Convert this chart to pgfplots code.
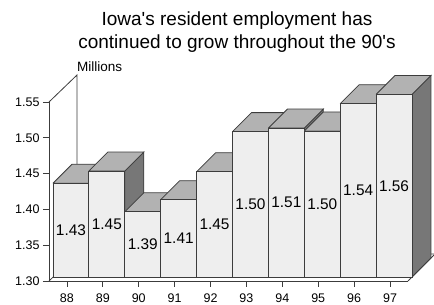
\documentclass[border=0pt]{standalone}
\usepackage{pgfplots}
\pgfplotsset{compat=1.18}
\usepackage{pgfplotstable}
\usepackage{fontspec}
\setmainfont{Liberation Sans}[Ligatures=TeXOff]
\definecolor{frontc}{RGB}{238,238,238}
\definecolor{topc}{RGB}{178,178,178}
\definecolor{sidec}{RGB}{119,119,119}
\definecolor{edgec}{RGB}{60,60,60}
\pgfplotstableread{
x v lab
0 1.431 1.43
1 1.448 1.45
2 1.391 1.39
3 1.408 1.41
4 1.447 1.45
5 1.503 1.50
6 1.508 1.51
7 1.504 1.50
8 1.542 1.54
9 1.555 1.56
}\emp
\begin{document}
\begin{tikzpicture}[x=1pt,y=1pt]
\useasboundingbox (0,0) rectangle (434,305);
\node[anchor=base,font=\fontsize{19}{22}\selectfont] at (237,279) {Iowa's resident employment has};
\node[anchor=base,font=\fontsize{19}{22}\selectfont] at (237,256) {continued to grow throughout the 90's};
\node[anchor=base west,font=\fontsize{13.5}{15}\selectfont,inner sep=0pt] at (77,233) {Millions};
\begin{axis}[
  at={(49pt,24pt)}, anchor=south west,
  scale only axis, width=359pt, height=179pt,
  xmin=-0.5, xmax=9.5, ymin=1.30, ymax=1.55,
  clip=false,
  axis x line*=bottom, axis y line*=left,
  axis line style={draw=edgec, line width=0.8pt},
  xtick={0,...,9},
  xticklabels={88,89,90,91,92,93,94,95,96,97},
  ytick={1.30,1.35,1.40,1.45,1.50,1.55},
  yticklabel style={/pgf/number format/.cd, fixed, fixed zerofill, precision=2},
  xticklabel style={yshift=-3pt},
  /pgf/number format/assume math mode=true,
  tick align=outside,
  major tick length=6pt,
  tick style={draw=edgec, line width=0.8pt},
  ticklabel style={font=\fontsize{12.5}{14}\selectfont},
  frontface/.style={fill=frontc, draw=edgec, line width=0.8pt, line join=miter, mark=none},
  topface/.style={fill=topc, draw=edgec, line width=0.8pt, line join=miter, mark=none},
  sideface/.style={fill=sidec, draw=edgec, line width=0.8pt, line join=miter, mark=none},
]
% 3D frame (walls / floor edges)
\draw[edgec, line width=0.8pt] (axis cs:-0.5,1.55) -- (axis cs:0.28,1.5877) -- (axis cs:0.28,1.3377) -- (axis cs:10.25,1.3377);
\draw[edgec, line width=0.8pt] (axis cs:-0.5,1.30) -- (axis cs:0.28,1.3377);
\draw[edgec, line width=0.8pt] (axis cs:9.5,1.30) -- (axis cs:10.25,1.3377);
\pgfplotsinvokeforeach{0,...,9}{
  \pgfplotstablegetelem{#1}{v}\of\emp
  \pgfmathsetmacro{\xl}{#1-0.5+0.1114}
  \pgfmathsetmacro{\xr}{#1+0.5+0.1114}
  \pgfmathsetmacro{\xbl}{\xl+0.529}
  \pgfmathsetmacro{\xbr}{\xr+0.529}
  \pgfmathsetmacro{\yb}{1.30+0.00559}
  \pgfmathsetmacro{\yt}{\pgfplotsretval+0.00559}
  \pgfmathsetmacro{\ybb}{\yb+0.02654}
  \pgfmathsetmacro{\ytb}{\yt+0.02654}
  \edef\temp{\noexpand\addplot[sideface] coordinates {(\xr,\yb) (\xbr,\ybb) (\xbr,\ytb) (\xr,\yt) (\xr,\yb)};
    \noexpand\addplot[topface] coordinates {(\xl,\yt) (\xr,\yt) (\xbr,\ytb) (\xbl,\ytb) (\xl,\yt)};
    \noexpand\addplot[frontface] coordinates {(\xl,\yb) (\xr,\yb) (\xr,\yt) (\xl,\yt) (\xl,\yb)};}
  \temp
}
\addplot[draw=none, mark=none, nodes near coords, point meta=explicit symbolic,
  nodes near coords style={anchor=center, font=\fontsize{15.4}{17}\selectfont, text=black}]
  table[x expr=\thisrow{x}+0.1114, y expr={(\thisrow{v}+1.30)/2+0.0056}, meta=lab] {\emp};
\end{axis}
\end{tikzpicture}
\end{document}
